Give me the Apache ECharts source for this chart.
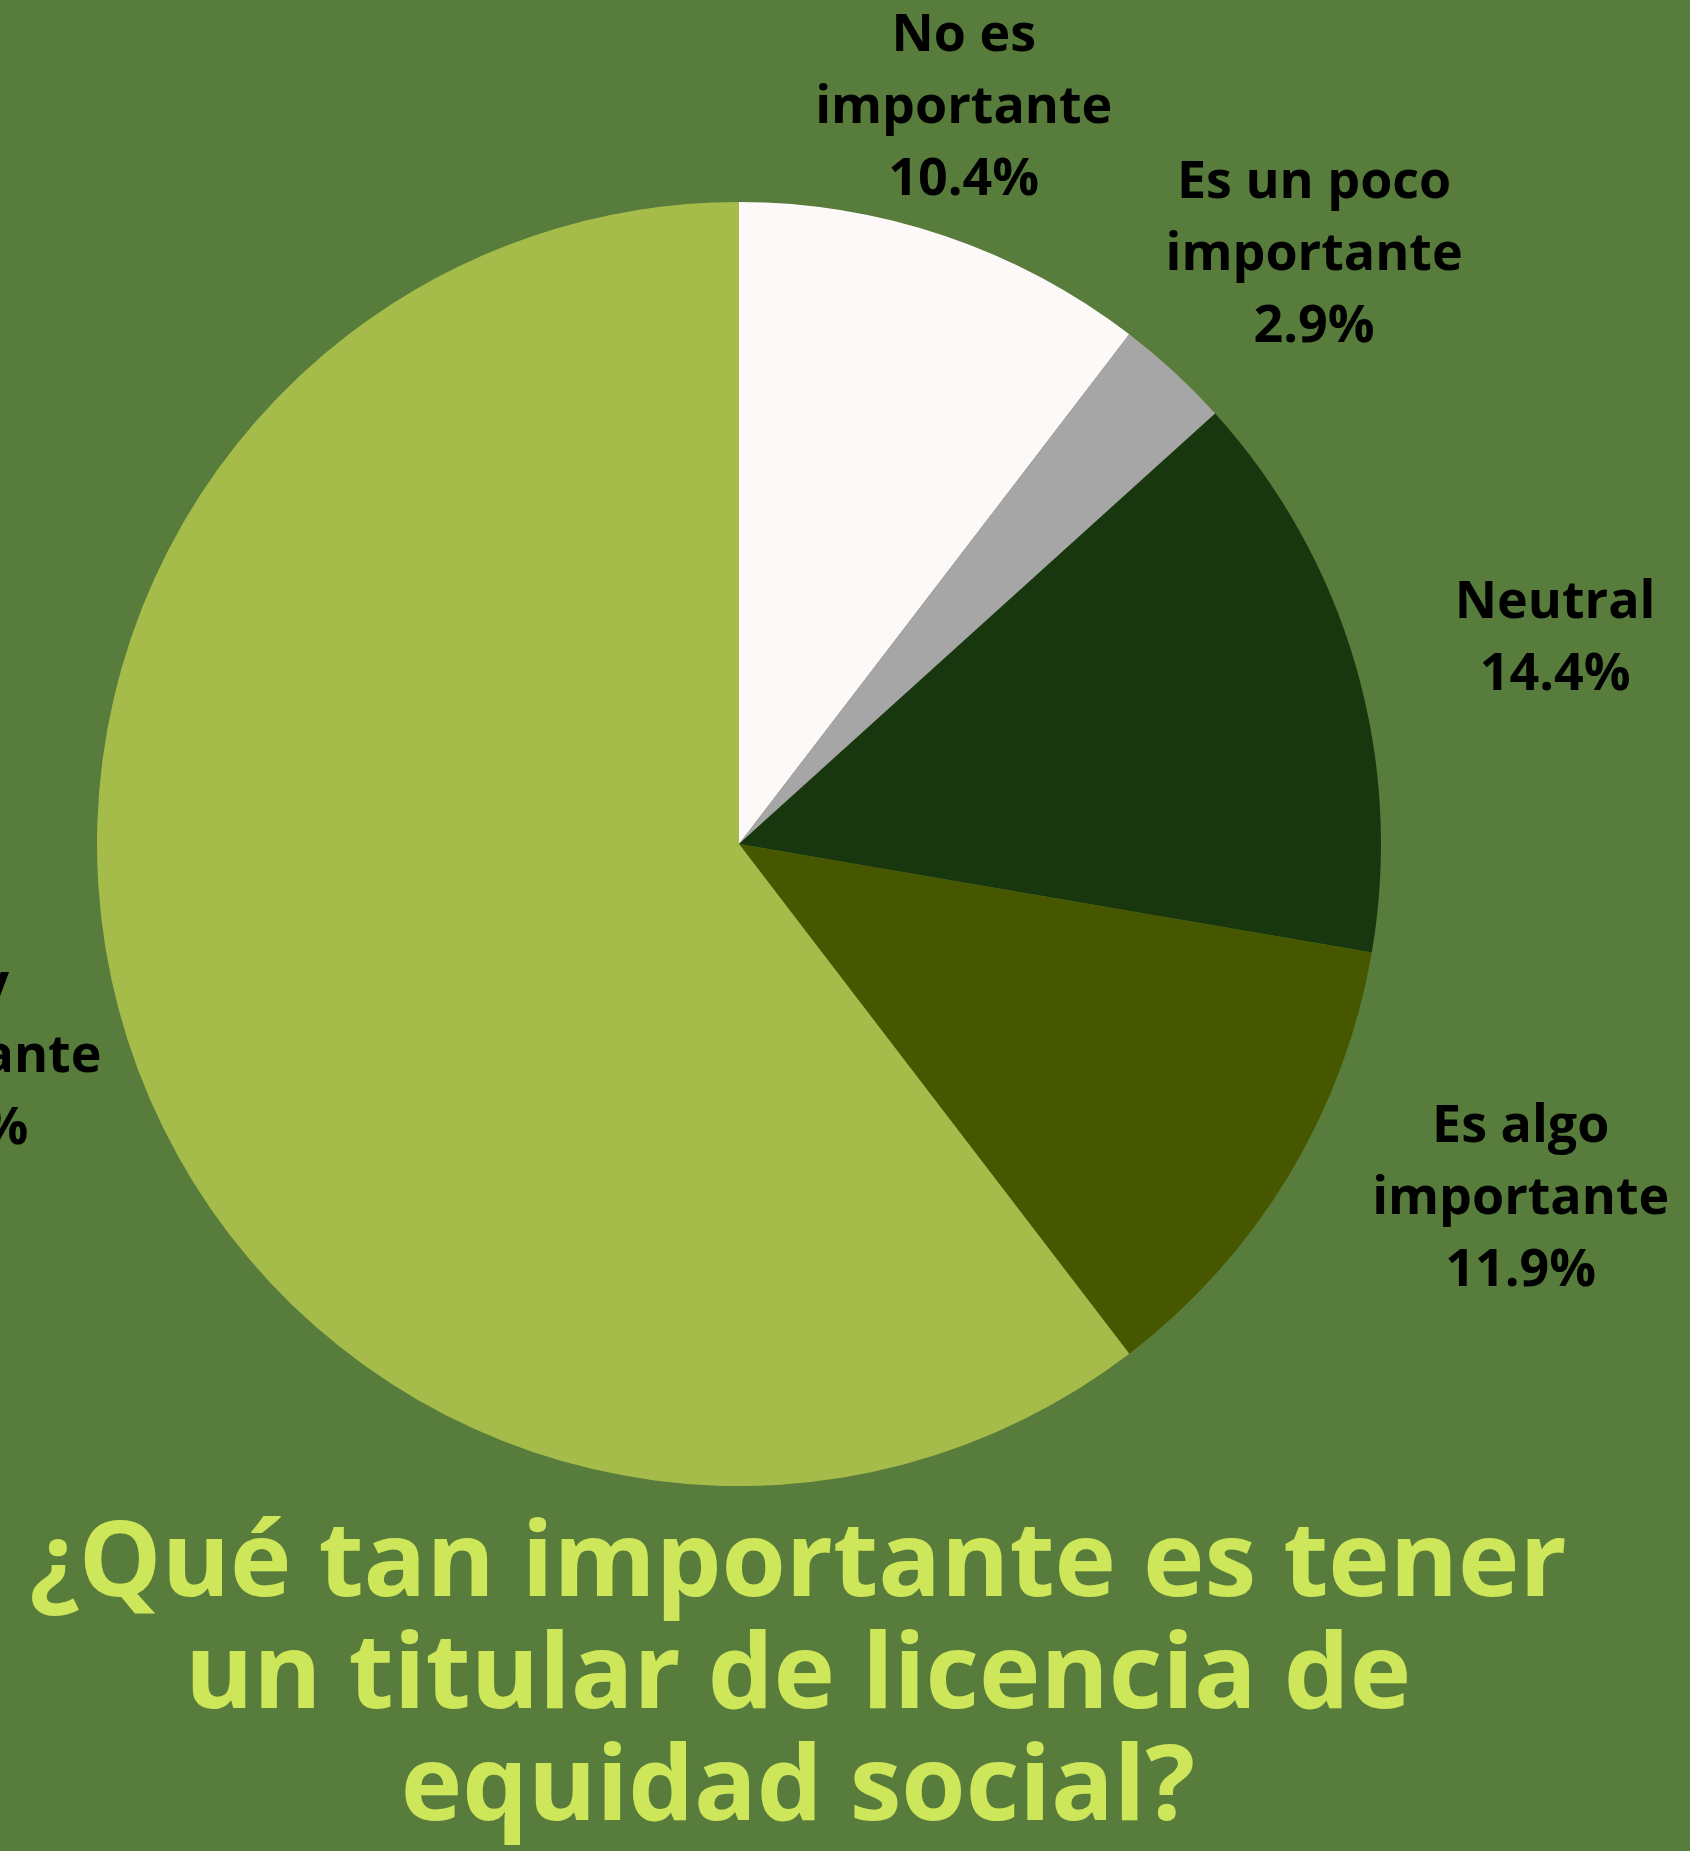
<!DOCTYPE html>
<html lang="es">
<head>
<meta charset="utf-8">
<title>Titular de licencia de equidad social</title>
<script src="https://cdn.jsdelivr.net/npm/echarts@6/dist/echarts.min.js"></script>
<style>
  html, body { margin: 0; padding: 0; background: #577c3b; }
  #main { width: 1690px; height: 1851px; }
</style>
</head>
<body>
<div id="main"></div>
<script>
// datos (porcentajes)
var categorias = ['No es importante', 'Es un poco importante', 'Neutral', 'Es algo importante', 'Muy importante'];
var etiquetas = ['No es\nimportante', 'Es un poco\nimportante', 'Neutral', 'Es algo\nimportante', 'Muy\nimportante'];
var porcentajes = [10.4, 2.9, 14.4, 11.9, 60.4];

var colores = ['#fdf9f8', '#a6a6a6', '#18370f', '#465700', '#a6bc4a'];
// pequeños ajustes de las etiquetas respecto al anillo exterior
var ajustes = [[-41, 48], [14, 20], [21, 26], [73, -73], [-2, -53]];

var chart = echarts.init(document.getElementById('main'));

var rebanadas = categorias.map(function (c, i) {
    return { name: c, value: porcentajes[i], itemStyle: { color: colores[i] } };
});
var textos = categorias.map(function (c, i) {
    return { name: c, value: porcentajes[i], label: { offset: ajustes[i] } };
});

var option = {
    backgroundColor: '#577c3b',
    animation: false,
    series: [{
        type: 'pie',
        center: [739, 844],
        radius: 642,
        startAngle: 90,
        clockwise: true,
        label: { show: false },
        labelLine: { show: false },
        itemStyle: { borderWidth: 0 },
        emphasis: { disabled: true },
        data: rebanadas
    }, {
        // anillo invisible que solo coloca las etiquetas
        type: 'pie',
        center: [739, 844],
        radius: [800, 850],
        startAngle: 90,
        clockwise: true,
        silent: true,
        itemStyle: { color: 'rgba(0,0,0,0)', borderWidth: 0 },
        emphasis: { disabled: true },
        labelLine: { show: false },
        label: {
            show: true,
            position: 'inside',
            color: '#000',
            fontFamily: 'Open Sans',
            fontWeight: 'bold',
            fontSize: 52,
            lineHeight: 72,
            align: 'center',
            formatter: function (p) {
                return etiquetas[p.dataIndex] + '\n' + p.value.toFixed(1) + '%';
            }
        },
        data: textos
    }],
    graphic: [{
        type: 'text',
        x: 798,
        y: 1678,
        style: {
            text: '¿Qué tan importante es tener\nun titular de licencia de\nequidad social?',
            fill: '#cde65a',
            font: 'bold 104px "Open Sans"',
            lineHeight: 112,
            align: 'center',
            verticalAlign: 'middle'
        }
    }]
};

chart.setOption(option);
</script>
</body>
</html>
